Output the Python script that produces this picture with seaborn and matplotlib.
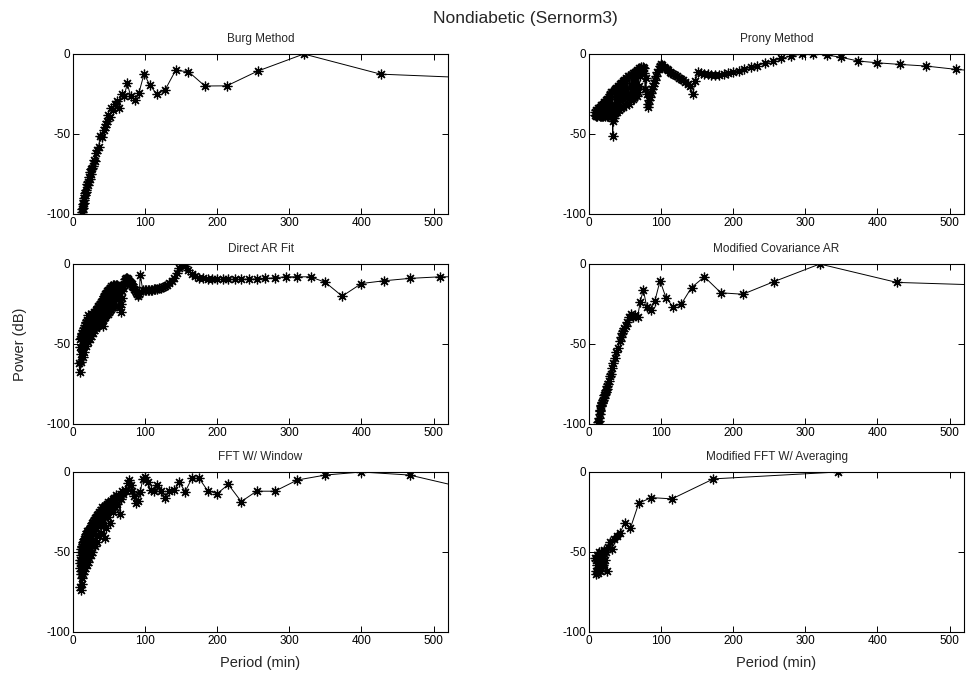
import matplotlib
matplotlib.use("Agg")
import matplotlib.pyplot as plt
from matplotlib import font_manager
import seaborn as sns
import pandas as pd

# ---------------- data (period in min, power in dB) ----------------
burg_period = [640, 426.7, 320, 256, 213.3, 182.9, 160, 142.2, 128, 116.4, 106.7, 98.5, 91.4, 85.3,
               80, 75.3, 71.1, 67.4, 64, 61, 58.2, 55.7, 53.3, 51.2, 49.2, 47.4, 45.7, 44.1, 42.7,
               40, 37.6, 35.6, 33.7, 32, 30.5, 29.1, 27.8, 26.7, 25.6, 24.6, 23.7, 22.9, 22.1, 21.3,
               20.3, 19.4, 18.6, 17.8, 17.1, 16.4, 15.8, 15.2, 14.7, 14.2, 13.6, 13.1, 12.5, 12.1]
burg_power = [-16.5, -12.6, 0, -10.7, -19.9, -20.0, -11.0, -10.3, -22.2, -25.3, -19.5, -12.5, -24.3, -28.7,
              -26.5, -18.4, -26, -24.7, -34, -29.5, -31, -35, -34, -39.4, -38, -42, -44, -45.5, -47.8,
              -52, -51, -58, -60, -62, -66.7, -66, -70, -71, -72, -75, -74, -78, -77, -80,
              -82, -81, -85, -86, -88, -87, -90, -91, -93, -94, -96, -97, -99, -100]

prony_period = [560, 509, 466.7, 430.8, 400, 373.3, 350, 329.4, 311.1, 294.7, 280, 266.7, 254.5, 243.5,
                233.3, 224, 215.4, 207.4, 200, 193.1, 186.7, 180.6, 175, 169.7, 164.7, 160, 155.6,
                151.4, 147.4, 143.6, 140, 136.6, 133.3, 130.2, 127.3, 124.4, 121.7, 119.1, 116.7,
                114.3, 112, 109.8, 107.7, 105.7, 103.7, 101.8, 100, 98.2, 96.6, 94.9, 93.3, 91.8,
                90.3, 88.9, 87.5, 86.2, 84.8, 83.6, 82.4, 81.2, 80, 78.9, 77.8, 76.7,
                75.7, 74.7, 73.7, 72.7, 71.8, 70.9, 70, 69.1, 68.3, 67.5, 66.7, 65.9, 65.1, 64.4,
                63.6, 62.9, 62.2, 61.5, 60.9, 60.2, 59.6, 58.9, 58.3, 57.1, 56, 54.9, 53.8, 52.8,
                51.9, 50.9, 50, 49.1, 48.3, 47.5, 46.7, 45.9, 45.2, 44.4, 43.8, 43.1, 42.4, 41.8,
                41.2, 40.6, 40, 39.4, 38.9, 38.4, 37.8, 37.3, 36.8, 36.4, 35.9, 35.4, 35, 34.6,
                34.1, 33.7, 33.3, 32.9, 32.6, 32.2, 31.8, 31.1, 30.4, 29.8, 29.2, 28.6, 28, 27.5,
                26.9, 26.4, 25.9, 25.5, 24.9, 24.3, 23.7, 23.1, 22.4, 21.9, 21.2, 20.6, 20, 19.3,
                18.7, 18.1, 17.5, 16.9, 16.2, 15.6, 14.7, 14, 13.2, 12.4, 11.7, 11.2, 10.5, 10,
                9.3, 8.6, 8]
prony_power = [-11.5, -9.6, -7.5, -6.5, -5.5, -4.4, -2.1, -0.6, 0, 0, -1.3, -2.8, -4.4, -5.9,
               -7.2, -8.3, -9.5, -10.5, -11.5, -12, -12.6, -13, -13, -13, -12.8, -12.5, -12,
               -11, -17, -25, -20, -18.5, -17.5, -16.5, -15.5, -14.8, -14, -13.2, -12.5,
               -11.8, -11, -10.2, -9.5, -8.7, -8, -7, -6, -7.5, -9.5, -11.5, -14, -16,
               -18, -20, -22, -24.5, -27, -29, -31, -33, -25, -15, -22, -12,
               -9, -8, -10, -8, -9, -14, -8.5, -20, -10, -24, -10, -26, -11, -22,
               -11, -27, -12, -28, -12, -22, -13, -29, -13, -25, -14, -31, -14, -27,
               -15, -32, -16, -26, -16, -33, -17, -28, -18, -34, -18, -29, -19, -35,
               -20, -30, -20, -36, -21, -31, -21, -36, -22, -32, -22, -37, -23, -33,
               -40, -38, -42, -51, -40, -24, -37, -24, -38, -25, -36, -26, -38, -27,
               -39, -28, -35, -28, -39, -29, -37, -29, -39, -30, -38, -30, -39, -31,
               -39, -32, -38, -32, -39, -33, -39, -34, -38, -34, -39, -35, -38, -35,
               -39, -36, -38]

ar_period = [560, 509, 466.7, 430.8, 400, 373.3, 350, 329.4, 311.1, 294.7, 280, 266.7, 254.5, 243.5,
             233.3, 224, 215.4, 207.4, 200, 193.1, 186.7, 180.6, 175, 169.7, 164.7, 160, 155.6, 151.4,
             147.4, 143.6, 140, 136.6, 133.3, 130.2, 127.3, 124.4, 121.7, 119.1, 116.7, 114.3, 112,
             109.8, 107.7, 105.7, 103.7, 101.8, 100,
             96.6, 93.3, 91.8, 90.3, 88.9, 87.5, 86.2, 84.8, 83.6, 82.4, 81.2, 80, 78.9, 77.8, 76.7,
             75.7, 74.7, 73.7, 72.7, 71.8, 70.9, 70, 69.1, 68.3, 67.5, 66.7, 65.9, 65.1, 64.4, 63.6,
             62.9, 62.2, 61.5, 60.9, 60.2, 59.6, 58.9, 58.3, 57.7, 57.1, 56.6, 56, 55.4, 54.9, 54.4,
             53.8, 53.3, 52.8, 52.3, 51.9, 51.4, 50.9, 50.5, 50, 49.6, 49.1, 48.7, 48.3, 47.9, 47.5,
             47.1, 46.7, 46.3, 45.9, 45.5, 45.2, 44.8, 44.4, 44.1, 43.8, 43.4, 43.1, 42.7, 42.4, 42,
             41.8, 41.5, 41.2, 40.6, 40, 39.4, 38.9, 38.4, 37.8, 37.3, 36.8, 36.4, 35.9, 35.4, 35,
             34.6, 34.1, 33.7, 33.3, 32.9, 32.6, 32.2, 31.8, 31.1, 30.4, 29.8, 29.2, 28.6, 28, 27.5,
             26.9, 26.4, 25.9, 25.5, 24.9, 24.3, 23.7, 23.1, 22.4, 21.9, 21.2, 20.6, 20, 19.3, 18.7,
             18.1, 17.5, 16.9, 16.2, 15.6, 15.1, 14.6, 14, 13.5, 13, 12.4, 11.9, 11.4, 11, 10.5,
             10.1, 9.7, 9.3, 9]
ar_power = [-8, -8, -9, -10.5, -12.2, -20.1, -11.5, -8, -8, -8, -8.6, -9, -9.4, -9.4,
            -9.6, -9.6, -9.6, -9.6, -9.6, -9.4, -9.2, -9, -8.6, -7.5, -6, -3.5, -1, 0,
            -2.5, -5.5, -8.5, -10.5, -12, -13, -13.8, -14.3, -14.8, -15.2, -15.5, -15.6, -15.8,
            -16, -16.2, -16.3, -16.4, -16.4, -16.5,
            -16, -6.7, -19, -19.7, -18.5, -17.5, -16.5, -15.5, -14.5, -13.5, -12.8, -12, -11.3, -10.5, -10,
            -9.5, -9, -9, -9.5, -11, -12.5, -14, -15, -17, -21, -25, -29.8, -27, -22, -18,
            -15, -13.5, -20, -13, -22, -13, -21, -14, -26, -13, -20, -14, -27, -13, -22,
            -15, -28, -14, -23, -15, -29, -15, -24, -16, -30, -16, -25, -17, -31, -17,
            -26, -18, -32, -18, -27, -19, -33, -19, -28, -20, -34, -20, -29, -21, -39,
            -22, -35, -22, -30, -23, -36, -24, -31, -25, -37, -25, -33, -26, -38, -26,
            -34, -27, -39, -28, -35, -28, -40, -29, -36, -30, -41, -30, -37, -31, -43,
            -31, -39, -32, -45, -33, -40, -33, -47, -34, -43, -32, -49, -35, -45, -36,
            -51, -37, -48, -38, -55, -40, -50, -41, -58, -43, -53, -44, -61, -46, -56,
            -47, -67.5, -52, -62]

mcov_period = [640, 426.7, 320, 256, 213.3, 182.9, 160, 142.2, 128, 116.4, 106.7, 98.5, 91.4, 85.3,
               80, 75.3, 71.1, 67.4, 64, 61, 58.2, 55.7, 53.3, 51.2, 49.2, 47.4, 45.7, 44.1, 42.7,
               40, 37.6, 35.6, 33.7, 32, 30.5, 29.1, 27.8, 26.7, 25.6, 24.6, 23.7, 22.9, 22.1, 21.3,
               20.3, 19.4, 18.6, 17.8, 17.1, 16.4, 15.8, 15.2, 14.7, 14.2, 13.6, 13.1, 12.5]
mcov_power = [-14.5, -11.5, 0, -11.1, -18.9, -18, -8, -14.7, -25, -26.7, -21, -10.5, -23, -29,
              -26.6, -16.1, -23.5, -33, -32, -33, -31.5, -33, -36, -39, -40, -42, -43, -45.5, -48,
              -52.8, -55, -59, -62, -65, -68.6, -70, -73, -75, -76, -78, -79, -80, -81, -82,
              -84, -85, -86, -87, -88, -89, -91, -92, -94, -96, -98, -99, -100]

fftw_period = [560, 466.7, 400, 350, 311.1, 280, 254.5, 233.3, 215.4, 200, 186.7, 175, 164.7, 155.6,
               147.4, 140, 133.3, 127.3, 121.7, 116.7, 112, 107.7, 103.7, 100, 96.6, 93.3, 90.3, 87.5,
               84.8, 82.4, 80, 77.8, 75.7, 73.7, 71.8, 70, 68.3, 66.7, 65.1, 63.6, 62.2, 60.9, 59.6,
               58.3, 57.1, 56, 54.9, 53.8, 52.8, 51.9, 50.9, 50, 49.1, 48.3, 47.5, 46.7, 45.9, 45.2,
               44.4, 43.8, 43.1, 42.4, 41.8, 41.2, 40.6, 40, 39.4, 38.4, 37.8, 36.8, 36.4, 35.4, 35,
               34.1, 33.7, 32.9, 32.6, 31.8, 31.5, 30.8, 30.4, 29.8, 29.2, 28.6, 28, 27.5, 26.9, 26.4,
               25.9, 25.5, 24.9, 24.3, 23.7, 23.3, 22.8, 22.4, 21.9, 21.5, 21.1, 20.6, 20, 19.7, 19.3,
               18.9, 18.4, 18.1, 17.7, 17.3, 16.9, 16.5, 16.1, 15.7, 15.4, 15.1, 14.7, 14.4, 14, 13.7,
               13.3, 13, 12.7, 12.4, 12.1, 11.9, 11.7, 11.4, 11.2, 11, 10.8, 10.6, 10.3, 10, 9.7, 9.5]
fftw_power = [-11.7, -1.9, 0, -1.9, -5, -12, -12, -18.5, -7.8, -13.5, -11.7, -4, -4, -12.3,
              -6.4, -11.5, -12, -16, -12, -8, -12, -11.5, -6, -3, -4.5, -12.5, -18, -19.5,
              -15, -12, -8, -5, -7, -12, -11, -14, -12, -17, -26.5, -16, -15, -20, -14.5,
              -22, -16, -25, -17, -22, -18, -31.7, -19, -24, -19, -28, -20, -25, -21, -35,
              -21, -41, -22, -27, -23, -33, -22, -29, -24, -38, -25, -30, -25, -40, -26,
              -33, -27, -44, -28, -35, -28, -46, -29, -37, -30, -45, -31, -39, -32, -50,
              -33, -41, -34, -52, -35, -44, -36, -54, -36, -46, -37, -56, -37, -48, -38,
              -58, -39, -50, -40, -60, -41, -52, -42, -62, -42, -54, -43, -64, -44, -56,
              -45, -66, -46, -58, -47, -70, -48, -62, -50, -74, -52, -64, -55, -72, -60, -57]

mfft_period = [345, 172.5, 115, 86.25, 69, 57.5, 49.3, 43.1, 38.3, 34.5, 31.4, 28.75, 26.5, 24.6,
               23, 21.6, 20.3, 19.2, 18.2, 17.25, 16.4, 15.7, 15, 14.4, 13.8, 13.3, 12.8, 12.3,
               11.5, 10.8, 10.1, 9.6, 9.1, 8.6]
mfft_power = [0, -4.3, -16.8, -16, -19.5, -35, -32, -38, -40, -42, -48, -44, -47, -62,
              -50, -55, -49, -58, -51, -60, -50, -62, -53, -57, -50, -61, -54, -63,
              -52, -58, -62, -55, -64, -54]

panel_titles = ["Burg Method", "Prony Method", "Direct AR Fit", "Modified Covariance AR",
                "FFT W/ Window", "Modified FFT W/ Averaging"]
suptitle_text = "Nondiabetic (Sernorm3)"
x_ticks = [0, 100, 200, 300, 400, 500]
y_ticks = [-100, -50, 0]

series = [(burg_period, burg_power), (prony_period, prony_power),
          (ar_period, ar_power), (mcov_period, mcov_power),
          (fftw_period, fftw_power), (mfft_period, mfft_power)]

# ---------------- style ----------------
sns.set_style("ticks")
names = {f.name for f in font_manager.fontManager.ttflist}
fam = "Liberation Sans Narrow" if "Liberation Sans Narrow" in names else "Liberation Sans"
plt.rcParams["font.family"] = [fam, "DejaVu Sans"]
plt.rcParams["axes.unicode_minus"] = False

W, H = 966, 676
fig = plt.figure(figsize=(W / 100, H / 100), dpi=100)

col_left = [73, 589]
col_width = 375
row_top = [54, 264, 472]
row_height = 160

for i, (per, pw) in enumerate(series):
    r, c = divmod(i, 2)
    x0 = col_left[c] / W
    y0 = 1 - (row_top[r] + row_height) / H
    ax = fig.add_axes([x0, y0, col_width / W, row_height / H])
    df = pd.DataFrame({"period": per, "power": pw})
    sns.lineplot(data=df, x="period", y="power", ax=ax, color="black", linewidth=0.7,
                 marker=(8, 2, 0), markersize=7, markeredgecolor="black",
                 markeredgewidth=0.9, estimator=None, sort=False, legend=False)
    ax.set_xlim(0, 520)
    ax.set_ylim(-100, 0)
    ax.set_xticks(x_ticks)
    ax.set_yticks(y_ticks)
    ax.tick_params(direction="in", length=4, width=0.7, top=True, right=True,
                   labelsize=8.5, pad=2, colors="black")
    for s in ax.spines.values():
        s.set_visible(True)
        s.set_linewidth(0.8)
        s.set_color("black")
    ax.set_title(panel_titles[i], fontsize=8.5, pad=8.5)
    ax.set_xlabel("")
    ax.set_ylabel("")
    if r == 2:
        ax.set_xlabel("Period (min)", fontsize=10.5, labelpad=7)
    if r == 1 and c == 0:
        ax.set_ylabel("Power (dB)", fontsize=10.5, labelpad=14)

fig.text(525 / W, 1 - 18 / H, suptitle_text, ha="center", va="center", fontsize=12.5)

fig.savefig("out.png", dpi=100, facecolor="white")
